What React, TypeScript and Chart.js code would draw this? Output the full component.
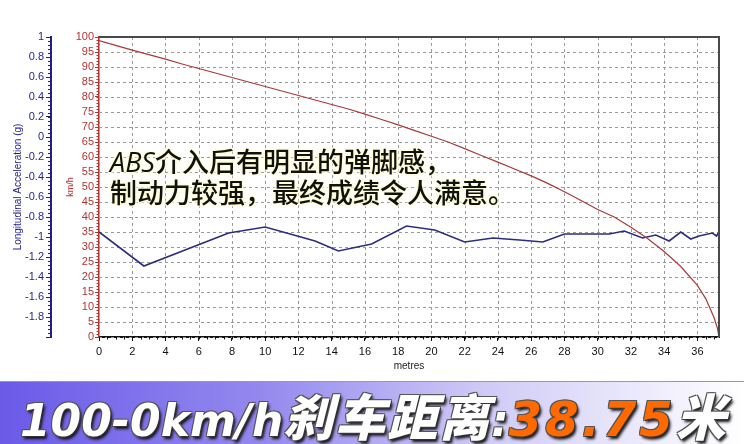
import React, { useEffect, useRef } from "react";
import { Chart, registerables } from "chart.js";

Chart.register(...registerables);

// ---- data ----
const speedDistanceM = [
  0, 1, 2, 3, 4, 5, 6, 7, 8, 9, 10, 11, 12, 13, 14, 15, 16, 17, 18, 19, 20,
  21, 22, 23, 24, 25, 26, 27, 28, 29, 30, 31, 32, 33, 34, 35, 36, 36.5, 37, 37.2, 37.3,
];
const speedKmh = [
  98.8, 97.2, 95.6, 94.1, 92.6, 91.0, 89.5, 88.0, 86.5, 85.0, 83.5, 82.0, 80.5, 79.0,
  77.5, 76.0, 74.3, 72.5, 70.7, 68.8, 66.9, 65.0, 62.8, 60.5, 58.3, 56.0, 53.7, 51.2,
  48.4, 45.5, 42.5, 40.0, 36.6, 32.8, 28.5, 23.5, 17.2, 12.8, 6.5, 3.0, 0,
];
const accelDistanceM = [
  0, 2.7, 7.8, 10.0, 13.0, 14.4, 16.4, 18.5, 20.2, 22.0, 23.7, 25.3, 26.7, 28.0,
  30.7, 31.6, 32.7, 33.5, 34.3, 35.0, 35.6, 36.1, 36.9, 37.15, 37.3,
];
const accelG = [
  -0.95, -1.29, -0.96, -0.9, -1.04, -1.14, -1.07, -0.89, -0.93, -1.05, -1.01, -1.03,
  -1.05, -0.97, -0.97, -0.94, -1.01, -0.98, -1.04, -0.95, -1.02, -0.99, -0.96, -0.99, -0.95,
];
const annotationLines = ["介入后有明显的弹脚感，", "制动力较强，最终成绩令人满意。"];
const annotationLead = "ABS";
const bannerLead = "100-0km/h";
const bannerCjk = "刹车距离";
const bannerColon = ":";
const bannerValue = "38.75";
const bannerUnit = "米";

const RED = "#b8322e";
const NAVY = "#1f1f8a";
const GRID = "#9a9a9a";
const FONT = "'Liberation Sans', Arial, sans-serif";

const gridPlugin = {
  id: "dashedGrid",
  beforeDatasetsDraw(chart: any) {
    const { ctx, chartArea, scales } = chart;
    const { left, right, top, bottom } = chartArea;
    ctx.save();
    ctx.strokeStyle = GRID;
    ctx.lineWidth = 1;
    ctx.setLineDash([3, 3]);
    scales.x.ticks.forEach((t: any) => {
      const px = Math.round(scales.x.getPixelForValue(t.value)) + 0.5;
      ctx.beginPath();
      ctx.moveTo(px, top);
      ctx.lineTo(px, bottom);
      ctx.stroke();
    });
    scales.ySpeed.ticks.forEach((t: any) => {
      const py = Math.round(scales.ySpeed.getPixelForValue(t.value)) + 0.5;
      ctx.beginPath();
      ctx.moveTo(left, py);
      ctx.lineTo(right, py);
      ctx.stroke();
    });
    ctx.restore();
  },
};

const framePlugin = {
  id: "frameAndMinor",
  afterDraw(chart: any) {
    const { ctx, chartArea, scales } = chart;
    const { left, right, top, bottom } = chartArea;
    ctx.save();
    ctx.strokeStyle = "#4a4a4a";
    ctx.lineWidth = 2;
    ctx.beginPath();
    ctx.moveTo(left, top);
    ctx.lineTo(right, top);
    ctx.lineTo(right, bottom);
    ctx.stroke();
    ctx.lineWidth = 1;
    ctx.strokeStyle = "#111";
    const xs = scales.x;
    for (let i = 0; i * 0.5 <= 37.3; i++) {
      const px = Math.round(xs.getPixelForValue(i * 0.5)) + 0.5;
      ctx.beginPath();
      ctx.moveTo(px, bottom);
      ctx.lineTo(px, bottom + 2.5);
      ctx.stroke();
    }
    ctx.strokeStyle = RED;
    const ys = scales.ySpeed;
    for (let v = 0; v <= 100; v++) {
      const py = Math.round(ys.getPixelForValue(v)) + 0.5;
      ctx.beginPath();
      ctx.moveTo(ys.right - 2.5, py);
      ctx.lineTo(ys.right, py);
      ctx.stroke();
    }
    ctx.strokeStyle = NAVY;
    const ya = scales.yAcc;
    for (let i = 0; i <= 75; i++) {
      const py = Math.round(ya.getPixelForValue(-2 + i * 0.04)) + 0.5;
      ctx.beginPath();
      ctx.moveTo(ya.right - 3, py);
      ctx.lineTo(ya.right, py);
      ctx.stroke();
    }
    ctx.restore();
  },
};

export default function App() {
  const ref = useRef<HTMLCanvasElement>(null);

  useEffect(() => {
    if (!ref.current) return;
    Chart.defaults.font.family = FONT;
    const chart = new Chart(ref.current, {
      type: "line",
      data: {
        datasets: [
          {
            label: "km/h",
            data: speedDistanceM.map((x, i) => ({ x, y: speedKmh[i] })),
            yAxisID: "ySpeed",
            borderColor: "#a83a3a",
            borderWidth: 1.2,
            pointRadius: 0,
            tension: 0,
          },
          {
            label: "Longitudinal Acceleration (g)",
            data: accelDistanceM.map((x, i) => ({ x, y: accelG[i] })),
            yAxisID: "yAcc",
            borderColor: "#2d2d80",
            borderWidth: 1.6,
            pointRadius: 0,
            tension: 0,
          },
        ],
      },
      options: {
        responsive: false,
        animation: false,
        layout: { padding: { top: 37, right: 25, bottom: 0, left: 0 } },
        plugins: { legend: { display: false }, tooltip: { enabled: false } },
        scales: {
          x: {
            type: "linear",
            position: "bottom",
            min: 0,
            max: 37.3,
            ticks: {
              stepSize: 2,
              includeBounds: false,
              color: "#111",
              font: { size: 11 },
              padding: 4,
              maxRotation: 0,
              autoSkip: false,
            },
            grid: { drawOnChartArea: false, tickColor: "#111", tickLength: 4 },
            border: { color: "#111", width: 2 },
            title: {
              display: true,
              text: "metres",
              color: "#222",
              font: { size: 10 },
              padding: { top: 9, bottom: 9 },
            },
            afterFit: (s: any) => {
              s.height = 44;
            },
          },
          yAcc: {
            type: "linear",
            position: "left",
            weight: 1,
            min: -2,
            max: 1,
            ticks: {
              stepSize: 0.2,
              autoSkip: false,
              color: NAVY,
              font: { size: 11 },
              padding: 2,
              callback: (v: any) => (v < -1.99 ? "" : String(Number(Number(v).toFixed(1)))),
            },
            grid: { drawOnChartArea: false, tickColor: NAVY, tickLength: 5 },
            border: { color: NAVY, width: 2 },
            title: {
              display: true,
              text: "Longitudinal Acceleration (g)",
              color: NAVY,
              font: { size: 10 },
              padding: { top: 12, bottom: 0 },
            },
            afterFit: (s: any) => {
              s.width = 51;
            },
          },
          ySpeed: {
            type: "linear",
            position: "left",
            weight: 0,
            min: 0,
            max: 100,
            ticks: { stepSize: 5, autoSkip: false, color: RED, font: { size: 11 }, padding: 1 },
            grid: { drawOnChartArea: false, tickColor: RED, tickLength: 4 },
            border: { color: RED, width: 1.5 },
            title: {
              display: true,
              text: "km/h",
              color: RED,
              font: { size: 9 },
              padding: { top: 14, bottom: 0 },
            },
            afterFit: (s: any) => {
              s.width = 48;
            },
          },
        },
      },
      plugins: [gridPlugin, framePlugin],
    } as any);
    return () => chart.destroy();
  }, []);

  const glow =
    "0 0 2px #ffffd8, 0 0 3px #ffffd0, 0 0 4px #ffffc8, 1px 1px 2px #fffff0, -1px -1px 2px #fffff0";
  const bannerShadow =
    "1px 1px 0 #333, -1px -1px 0 #555, 1px -1px 0 #555, -1px 1px 0 #555, 2px 3px 3px #111";

  return (
    <div
      style={{
        position: "absolute",
        left: 0,
        top: 0,
        width: 744,
        height: 444,
        background: "#fff",
        overflow: "hidden",
      }}
    >
      <canvas
        ref={ref}
        width={744}
        height={381}
        style={{ position: "absolute", left: 0, top: 0, width: 744, height: 381 }}
      />
      <div
        style={{
          position: "absolute",
          left: 110,
          top: 146,
          fontFamily: "'Noto Sans CJK SC', sans-serif",
          fontSize: 27,
          fontWeight: 500,
          lineHeight: "30px",
          color: "#111",
          textShadow: glow,
          whiteSpace: "nowrap",
        }}
      >
        <div>
          <span style={{ fontStyle: "italic", fontFamily: "'Open Sans', 'Noto Sans', sans-serif" }}>
            {annotationLead}
          </span>
          {annotationLines[0]}
        </div>
        <div>{annotationLines[1]}</div>
      </div>
      <div
        style={{
          position: "absolute",
          left: 0,
          top: 381,
          width: 744,
          height: 63,
          borderTop: "1px solid #9a9a9a",
          background: "linear-gradient(to right, #6a5ae8 0%, #9488ee 35%, #cfcaf6 65%, #ffffff 100%)",
          boxSizing: "border-box",
          whiteSpace: "nowrap",
        }}
      >
        <div
          style={{
            position: "absolute",
            left: 20,
            top: 2,
            height: 60,
            lineHeight: "60px",
            color: "#fff",
            fontWeight: 700,
            fontStyle: "italic",
            fontFamily: "'DejaVu Sans', sans-serif",
            fontSize: 44,
            textShadow: bannerShadow,
          }}
        >
          <span>{bannerLead}</span>
          <span style={{ fontFamily: "'Noto Sans CJK SC', sans-serif", fontWeight: 900, fontSize: 50, letterSpacing: 2 }}>
            {bannerCjk}
          </span>
          <span>{bannerColon}</span>
          <span style={{ color: "#ff6a00", fontSize: 48, letterSpacing: 3 }}>{bannerValue}</span>
          <span style={{ fontFamily: "'Noto Sans CJK SC', sans-serif", fontWeight: 900, fontSize: 50 }}>
            {bannerUnit}
          </span>
        </div>
      </div>
    </div>
  );
}
